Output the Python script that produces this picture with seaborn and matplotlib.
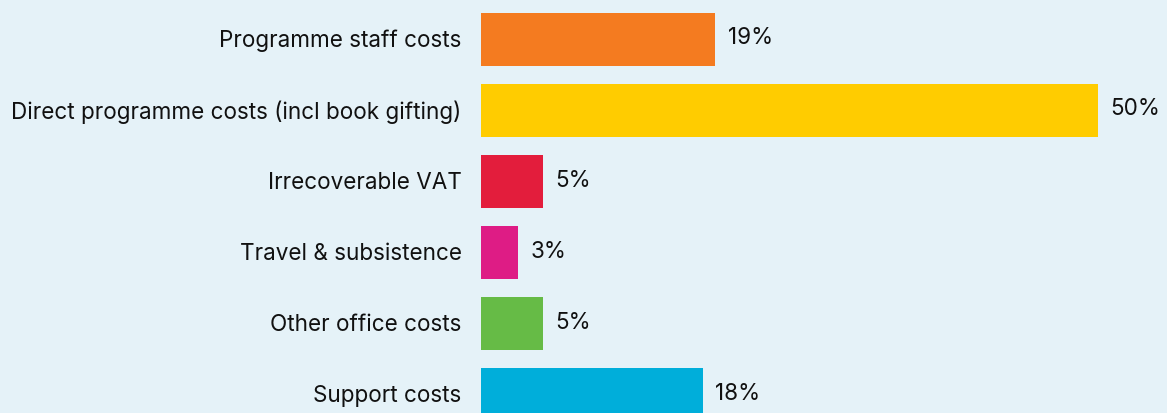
import numpy as np
import pandas as pd
import matplotlib.pyplot as plt
import matplotlib.transforms as mtransforms
import seaborn as sns

categories = ["Programme staff costs", "Direct programme costs (incl book gifting)",
              "Irrecoverable VAT", "Travel & subsistence", "Other office costs", "Support costs"]
values = [19, 50, 5, 3, 5, 18]
colours = ["#F47B20", "#FFCC00", "#E31D3C", "#DE1C85", "#66BB46", "#00AEDA"]

bg = "#E5F2F8"
sns.set_theme(style="white")
plt.rcParams['font.family'] = ['Inter', 'DejaVu Sans']

df = pd.DataFrame({"category": categories, "value": values})

fig = plt.figure(figsize=(11.67, 4.14), dpi=100, facecolor=bg)
ax = fig.add_axes([481 / 1167, 0, 1 - 481 / 1167, 1])
ax.set_facecolor(bg)

sns.barplot(data=df, x="value", y="category", hue="category", palette=colours,
            legend=False, orient="h", width=0.74, saturation=1, linewidth=0, ax=ax)

# raise texts slightly
up = mtransforms.ScaledTranslation(0, 2 / 100, fig.dpi_scale_trans)
for i, v in enumerate(values):
    ax.text(v + 1.0, i, f"{v}%", va="center", ha="left", fontsize=16.2,
            color="#111111", transform=ax.transData + up)

ax.set_xlim(0, 55.6)
ax.set_ylim(5.26, -0.57)
ax.set_xlabel("")
ax.set_ylabel("")
ax.set_xticks([])
ax.tick_params(axis="y", length=0, pad=14, labelsize=16.2, labelcolor="#111111")
for lbl in ax.get_yticklabels():
    lbl.set_transform(lbl.get_transform() + up)
sns.despine(ax=ax, left=True, bottom=True)

fig.savefig("out.png", dpi=100, facecolor=bg)
